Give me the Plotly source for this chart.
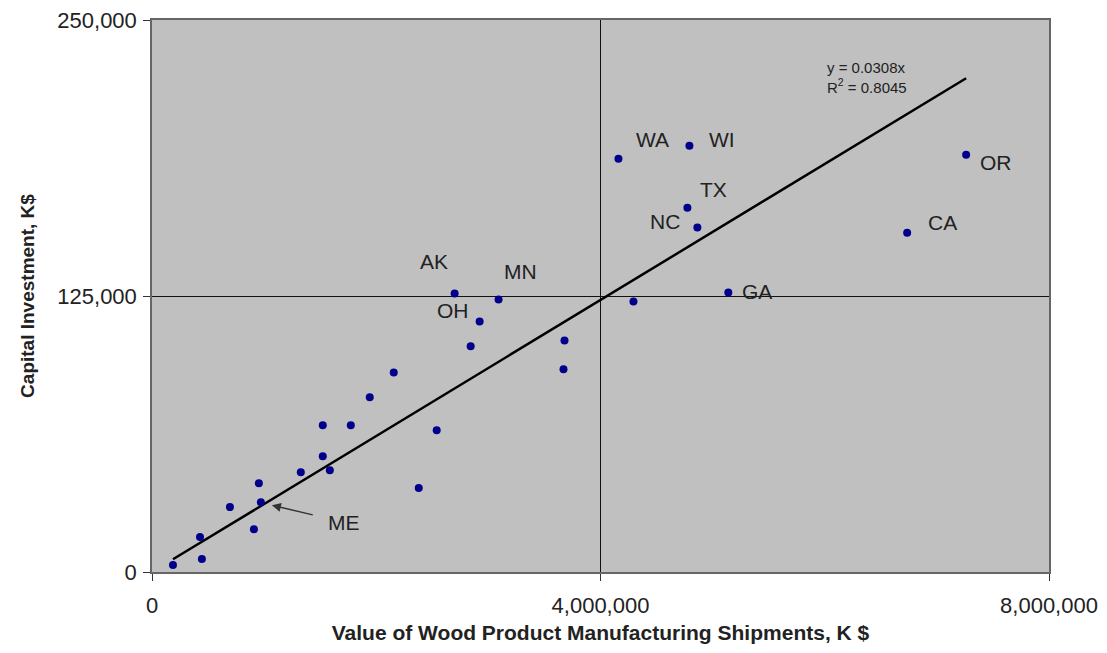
import numpy as np
import plotly.graph_objects as go

# Shipments value (K $) and capital investment (K$) per state
shipments = [187000, 445000, 428000, 695000, 909000, 953000, 971000, 1327000, 1523000,
             1523000, 1586000, 1773000, 1942000, 2156000, 2379000, 2539000, 2699000,
             2842000, 2922000, 3091000, 3670000, 3679000, 4160000, 4294000, 4775000,
             4793000, 4864000, 5140000, 6735000, 7261000]
investment = [3200, 5900, 15800, 29400, 19400, 40200, 31600, 45200, 52400,
              66500, 46100, 66500, 79100, 90400, 38000, 64200, 126100,
              102200, 113500, 123400, 91800, 104900, 187200, 122500, 165000,
              193000, 156000, 126600, 153700, 189000]
states = ["", "", "", "", "", "", "ME", "", "",
          "", "", "", "", "", "", "", "AK",
          "", "OH", "MN", "", "", "WA", "", "TX",
          "WI", "NC", "GA", "CA", "OR"]
slope = 0.0308
r2 = 0.8045

x_ticks = [0, 4000000, 8000000]
y_ticks = [0, 125000, 250000]

# label offsets in pixels (dx, dy) -- style only
label_offsets = {
    "WA": (34, 19), "WI": (33, 6), "TX": (26, 18), "NC": (-32, 6), "GA": (29, 1),
    "CA": (35, 10), "OR": (30, -8), "AK": (-21, 32), "MN": (22, 28), "OH": (-27, 11),
}

fig = go.Figure()

xs = np.array([min(shipments), max(shipments)])
fig.add_trace(go.Scatter(x=xs, y=slope * xs, mode="lines",
                         line=dict(color="black", width=2.5), hoverinfo="skip"))
fig.add_trace(go.Scatter(x=shipments, y=investment, mode="markers",
                         marker=dict(color="#00008B", size=8), hoverinfo="x+y"))

font_main = "Liberation Sans, Arial, sans-serif"
for xv, yv, s in zip(shipments, investment, states):
    if s in label_offsets:
        dx, dy = label_offsets[s]
        fig.add_annotation(x=xv, y=yv, text=s, showarrow=False,
                           xshift=dx, yshift=dy,
                           font=dict(size=21, color="#222", family=font_main))
    elif s == "ME":
        fig.add_annotation(x=xv, y=yv, text=s, showarrow=True,
                           ax=72, ay=17, xshift=11, yshift=-3,
                           arrowhead=2, arrowsize=1.2, arrowwidth=1.5,
                           arrowcolor="#333", standoff=0, startstandoff=14,
                           font=dict(size=21, color="#222", family=font_main))

fig.add_annotation(x=7261000 * 0.905, y=slope * 7261000 * 0.905, text=f"y = {slope}x<br>R<sup>2</sup> = {r2}",
                   showarrow=False, xanchor="left", yanchor="bottom", align="left",
                   xshift=-64, yshift=27,
                   font=dict(size=15, color="#222", family=font_main))

# page body has an 8px margin, so the figure is sized/margined to compensate
fig.update_layout(
    width=1099, height=645,
    paper_bgcolor="white", plot_bgcolor="#C0C0C0",
    margin=dict(l=144, r=58, t=12, b=81),
    showlegend=False,
    font=dict(family=font_main, color="#222"),
)
fig.update_xaxes(range=[0, 8000000], tickvals=x_ticks, tickformat=",d", automargin=False,
                 ticklabeloverflow="allow",
                 showgrid=True, gridcolor="#111", gridwidth=1, zeroline=False,
                 showline=True, linecolor="#666", linewidth=1.5, mirror=True,
                 ticks="outside", ticklen=7, tickcolor="#333",
                 tickfont=dict(size=22, color="#222"), ticklabelstandoff=6,
                 title=dict(text="<b>Value of Wood Product Manufacturing Shipments, K $</b>",
                            font=dict(size=21, color="#222"), standoff=8))
fig.update_yaxes(range=[0, 250000], tickvals=y_ticks, tickformat=",d", automargin=False,
                 ticklabeloverflow="allow",
                 showgrid=True, gridcolor="#111", gridwidth=1, zeroline=False,
                 showline=True, linecolor="#666", linewidth=1.5, mirror=True,
                 ticks="outside", ticklen=7, tickcolor="#333",
                 tickfont=dict(size=22, color="#222"), ticklabelstandoff=2,
                 title=dict(text="<b>Capital Investment, K$</b>",
                            font=dict(size=19, color="#222"), standoff=18))

fig.write_html("out.html")
